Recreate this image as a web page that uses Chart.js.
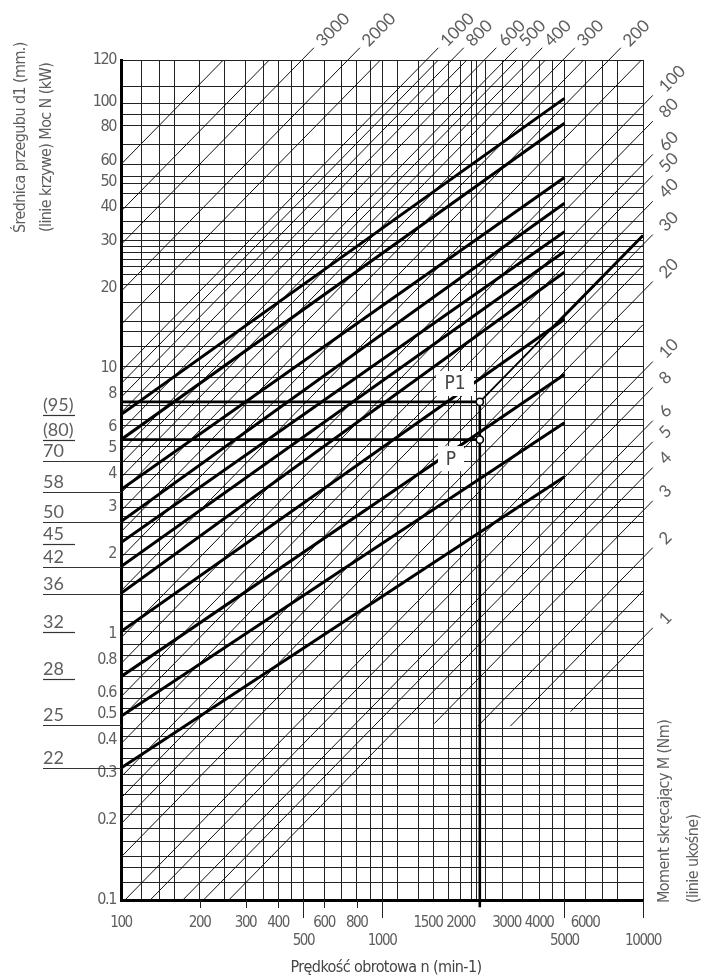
<!DOCTYPE html>
<html lang="pl">
<head>
<meta charset="utf-8">
<title>Nomogram</title>
<script src="https://cdn.jsdelivr.net/npm/chart.js@4.4.1/dist/chart.umd.min.js"></script>
<style>
  html, body { margin: 0; padding: 0; background: #fff; }
  canvas { display: block; }
</style>
</head>
<body>
<canvas id="chart" width="704" height="979"></canvas>
<script>
// x axis: speed n (min-1), log scale
const xMin = 100;
const xMax = 10000;
const xGrid = [100, 120, 140, 160, 200, 250, 300, 350, 400, 450, 500, 600, 700, 800, 900, 1000,
  1150, 1380, 1570, 1800, 2000, 2200, 2300, 2500, 2900, 3450, 4000, 4500, 5000, 6000, 7000, 8000, 10000];
const xLabelsRow1 = [100, 200, 300, 400, 600, 800, 1500, 2000, 3000, 4000, 6000];
const xLabelsRow2 = [500, 1000, 5000, 10000];
const xShortTicks = [200, 300, 400, 600, 800];
const xLongTicks = [500, 1000, 5000, 10000];

// y axis: power N (kW), log scale
const yMin = 0.1;
const yMax = 143; // top edge, marked "120" in the original
const yGrid = [114, 98, 89, 81, 69, 58, 52, 49, 45, 40, 35.5, 32, 30, 28.6, 27, 25.5, 24, 22.4, 20.5,
  17.5, 14.9, 13.7, 12, 10.1, 9.15, 8.1, 7.2, 6.4, 6.05, 5.06, 4.44, 3.96, 3.53, 3.19, 2.98, 2.76,
  2.61, 2.32, 1.98, 1.78, 1.57, 1.41, 1.21, 1.11, 1.02, 0.91, 0.83, 0.73, 0.69, 0.625, 0.57, 0.525,
  0.5, 0.44, 0.41, 0.37, 0.34, 0.32, 0.295, 0.27, 0.25, 0.224, 0.209, 0.186, 0.166, 0.146, 0.132, 0.116];
const yTickValues = [0.1, 0.2, 0.3, 0.4, 0.5, 0.6, 0.8, 1, 2, 3, 4, 5, 6, 8, 10, 20, 30, 40, 50, 60, 80, 100, yMax];
const yTickLabels = ['0.1', '0.2', '0.3', '0.4', '0.5', '0.6', '0.8', '1', '2', '3', '4', '5', '6', '8',
  '10', '20', '30', '40', '50', '60', '80', '100', '120'];

// thin diagonals: torque M (Nm), N = M * n / torqueK as drawn on the sheet
const torqueK = 10350;
const torqueValues = [1, 1.5, 2, 3, 4, 5, 6, 8, 10, 15, 20, 25, 30, 40, 50, 60, 80, 100, 150, 200, 250,
  300, 350, 400, 450, 500, 600, 700, 800, 900, 1000, 1500, 2000, 3000, 4000, 6000];
const torqueTopLabels = [200, 300, 400, 500, 600, 800, 1000, 2000, 3000];
const torqueRightLabels = [1, 2, 3, 4, 5, 6, 8, 10, 20, 30, 40, 50, 60, 80, 100];
const torqueStartN = { 1: 0.51, 1.5: 0.45, 2: 0.45, 3: 0.46 }; // these begin inside the field
const topLabelReachN = 159;         // labelled lines run a little past the top edge
const rightLabelReachSpeed = 10900; // ... and past the right edge

// thick curves: joint diameter d1 (mm), power at n = 100 and n = 5000
const d1Curves = ['(95)', '(80)', '58', '50', '45', '42', '36', '32', '28', '25', '22'];
const d1StartN = [6.66, 5.36, 3.48, 2.64, 2.20, 1.79, 1.42, 1.02, 0.69, 0.49, 0.313];
const d1EndN = [102.6, 82.7, 51.8, 41.4, 32.4, 27.3, 22.8, 15.2, 9.41, 6.21, 3.89];
const d1StartSpeed = 100;
const d1EndSpeed = 5000;

// diameter scale written left of the axis
const d1Labels = ['(95)', '(80)', '70', '58', '50', '45', '42', '36', '32', '28', '25', '22'];
const d1LevelN = [6.62, 5.33, 4.44, 3.40, 2.63, 2.17, 1.775, 1.41, 1.015, 0.676, 0.455, 0.313];
const d1LongRule = [false, false, true, true, true, false, true, true, false, false, true, true];

// worked example P / P1
const pointSpeed = 2370;
const pointP1 = 7.43;
const pointP = 5.36;
const pointStemEnd = 0.094;
const p1BoldFrom = 4500;
const pointNames = ['P1', 'P'];
const pointNameSpeed = [1904, 1838];
const pointNamePower = [8.71, 4.55];

const yTitle = ['Średnica przegubu d1 (mm.)', '(linie krzywe) Moc N (kW)'];
const mTitle = ['Moment skręcający M (Nm)', '(linie ukośne)'];
const xTitle = 'Prędkość obrotowa n (min-1)';

const narrow = '"Liberation Sans Narrow", "DejaVu Sans Condensed", Roboto, sans-serif';
const wide = 'Lato, "Open Sans", sans-serif';
const grey = '#5e5e5e';
const gridColor = '#222';

// torque line end points
const torqueLines = torqueValues.map(M => {
  let side = null;
  if (torqueTopLabels.includes(M)) side = 'top';
  if (torqueRightLabels.includes(M)) side = 'right';
  let n0 = xMin, N0 = M * xMin / torqueK;
  const floor = torqueStartN[M] || yMin;
  if (N0 < floor) { N0 = floor; n0 = floor * torqueK / M; }
  let n1, N1;
  if (side === 'top') { N1 = topLabelReachN; n1 = N1 * torqueK / M; }
  else if (side === 'right') { n1 = rightLabelReachSpeed; N1 = M * n1 / torqueK; }
  else { n1 = Math.min(xMax, yMax * torqueK / M); N1 = M * n1 / torqueK; }
  return { M, side, points: [{ x: n0, y: N0 }, { x: n1, y: N1 }] };
});

const datasets = [];
torqueLines.forEach(t => {
  datasets.push({
    label: 'M ' + t.M, data: t.points, showLine: true, pointRadius: 0,
    borderColor: '#111', borderWidth: 1, clip: t.side ? false : undefined, order: 5
  });
});
d1Curves.forEach((name, i) => {
  datasets.push({
    label: 'd1 ' + name,
    data: [{ x: d1StartSpeed, y: d1StartN[i] }, { x: d1EndSpeed, y: d1EndN[i] }],
    showLine: true, pointRadius: 0, borderColor: '#000', borderWidth: 3, order: 3
  });
});
const p1Torque = pointP1 * torqueK / pointSpeed;
datasets.push({
  label: 'P1 M', data: [{ x: pointSpeed, y: pointP1 }, { x: xMax, y: p1Torque * xMax / torqueK }],
  showLine: true, pointRadius: 0, borderColor: '#000', borderWidth: 1.8, order: 2
});
datasets.push({
  label: 'P1 M bold', data: [{ x: p1BoldFrom, y: p1Torque * p1BoldFrom / torqueK }, { x: xMax, y: p1Torque * xMax / torqueK }],
  showLine: true, pointRadius: 0, borderColor: '#000', borderWidth: 3, order: 2
});
datasets.push({
  label: 'P1 level', data: [{ x: xMin, y: pointP1 }, { x: pointSpeed, y: pointP1 }],
  showLine: true, pointRadius: 0, borderColor: '#000', borderWidth: 2.6, order: 2
});
datasets.push({
  label: 'P level', data: [{ x: xMin, y: pointP }, { x: pointSpeed, y: pointP }],
  showLine: true, pointRadius: 0, borderColor: '#000', borderWidth: 2.6, order: 2
});
datasets.push({
  label: 'n stem', data: [{ x: pointSpeed, y: pointP1 }, { x: pointSpeed, y: pointStemEnd }],
  showLine: true, pointRadius: 0, borderColor: '#000', borderWidth: 2.6, clip: false, order: 2
});
datasets.push({
  label: 'P points', data: [{ x: pointSpeed, y: pointP1 }, { x: pointSpeed, y: pointP }],
  showLine: false, pointRadius: 3.6, pointBackgroundColor: '#fff', pointBorderColor: '#000',
  pointBorderWidth: 1.6, order: 1
});

function verticalText(ctx, text, cx, bottom) {
  ctx.save();
  ctx.translate(cx, bottom);
  ctx.rotate(-Math.PI / 2);
  ctx.textAlign = 'left';
  ctx.textBaseline = 'middle';
  ctx.fillText(text, 0, 0);
  ctx.restore();
}

const nomogramDecor = {
  id: 'nomogramDecor',
  beforeDraw(chart) {
    // the sheet uses a condensed face for the axis numbers
    chart.ctx.letterSpacing = '-1.4px';
  },
  afterDatasetsDraw(chart) {
    const { ctx, chartArea: area } = chart;
    const xs = chart.scales.x, ys = chart.scales.y;
    ctx.save();
    ctx.letterSpacing = '0px';

    // boxes with the names P1 / P
    pointNames.forEach((name, i) => {
      const cx = xs.getPixelForValue(pointNameSpeed[i]);
      const cy = ys.getPixelForValue(pointNamePower[i]);
      const w = name.length > 1 ? 38 : 26, h = 25;
      ctx.fillStyle = '#fff';
      ctx.fillRect(cx - w / 2, cy - h / 2, w, h);
      ctx.fillStyle = '#444';
      ctx.font = '19px ' + narrow;
      ctx.textAlign = 'center';
      ctx.textBaseline = 'middle';
      ctx.fillText(name, cx, cy + 1);
    });

    // torque numbers at the ends of the long diagonals
    ctx.font = '17px ' + wide;
    ctx.fillStyle = grey;
    ctx.textAlign = 'left';
    ctx.textBaseline = 'middle';
    torqueLines.forEach(t => {
      if (!t.side) return;
      const end = t.points[1];
      const px = xs.getPixelForValue(end.x), py = ys.getPixelForValue(end.y);
      ctx.save();
      if (t.side === 'top') ctx.translate(px + 5, py - 4);
      else ctx.translate(px + 9, py - 6);
      ctx.rotate(-Math.PI / 4);
      ctx.fillText(String(t.M), 0, 0);
      ctx.restore();
    });

    // diameter scale on the left
    ctx.font = '18px ' + wide;
    ctx.strokeStyle = '#333';
    ctx.lineWidth = 1.2;
    d1Labels.forEach((lab, i) => {
      const py = Math.round(ys.getPixelForValue(d1LevelN[i])) + 0.5;
      const x1 = d1LongRule[i] ? area.left : 75;
      ctx.beginPath();
      ctx.moveTo(43, py);
      ctx.lineTo(x1, py);
      ctx.stroke();
      ctx.textAlign = 'left';
      ctx.textBaseline = 'alphabetic';
      ctx.fillText(lab, 43, py - 5);
    });

    // tick marks under the speed axis
    ctx.strokeStyle = gridColor;
    ctx.lineWidth = 1;
    [[xShortTicks, 8], [xLongTicks, 18]].forEach(([vals, len]) => {
      vals.forEach(v => {
        const px = Math.round(xs.getPixelForValue(v)) + 0.5;
        ctx.beginPath();
        ctx.moveTo(px, area.bottom);
        ctx.lineTo(px, area.bottom + len);
        ctx.stroke();
      });
    });

    // axis titles
    ctx.font = '16px ' + narrow;
    ctx.letterSpacing = '-0.6px';
    ctx.fillStyle = grey;
    verticalText(ctx, yTitle[0], 21, 233);
    verticalText(ctx, yTitle[1], 47, 232);
    verticalText(ctx, mTitle[0], 665, 903);
    verticalText(ctx, mTitle[1], 694, 903);
    ctx.fillStyle = '#444';
    ctx.textAlign = 'center';
    ctx.textBaseline = 'middle';
    ctx.fillText(xTitle, 386, 968);
    ctx.restore();
  }
};

const xAllTicks = [...new Set([...xGrid, ...xLabelsRow1, ...xLabelsRow2])].sort((a, b) => a - b);
const yAllTicks = [...new Set([...yGrid, ...yTickValues, yMin, yMax])].sort((a, b) => a - b);

new Chart(document.getElementById('chart').getContext('2d'), {
  type: 'scatter',
  data: { datasets },
  options: {
    responsive: false,
    animation: false,
    devicePixelRatio: 1,
    events: [],
    layout: { padding: { top: 60, right: 61, left: 0, bottom: 0 } },
    plugins: { legend: { display: false }, tooltip: { enabled: false } },
    scales: {
      x: {
        type: 'logarithmic', min: xMin, max: xMax,
        afterBuildTicks: s => { s.ticks = xAllTicks.map(v => ({ value: v })); },
        afterFit: s => { s.height = 79; },
        grid: {
          color: c => (c.tick && xGrid.includes(c.tick.value)) ? gridColor : 'rgba(0,0,0,0)',
          lineWidth: 1, drawTicks: false
        },
        border: { display: true, color: '#000', width: 3 },
        ticks: {
          autoSkip: false, maxRotation: 0, minRotation: 0, padding: 14, color: grey,
          font: { family: narrow, size: 15 },
          callback: v => {
            if (xLabelsRow1.includes(v)) return String(v);
            if (xLabelsRow2.includes(v)) return ['', String(v)];
            return '';
          }
        }
      },
      y: {
        type: 'logarithmic', min: yMin, max: yMax,
        afterBuildTicks: s => { s.ticks = yAllTicks.map(v => ({ value: v })); },
        afterFit: s => { s.width = 121; },
        grid: {
          color: c => (c.tick && (yGrid.includes(c.tick.value) || c.tick.value === yMax)) ? gridColor : 'rgba(0,0,0,0)',
          lineWidth: 1, drawTicks: false
        },
        border: { display: true, color: '#000', width: 3 },
        ticks: {
          autoSkip: false, padding: 5, color: grey,
          font: { family: narrow, size: 16 },
          callback: v => {
            const i = yTickValues.indexOf(v);
            return i >= 0 ? yTickLabels[i] : '';
          }
        }
      }
    }
  },
  plugins: [nomogramDecor]
});
</script>
</body>
</html>
